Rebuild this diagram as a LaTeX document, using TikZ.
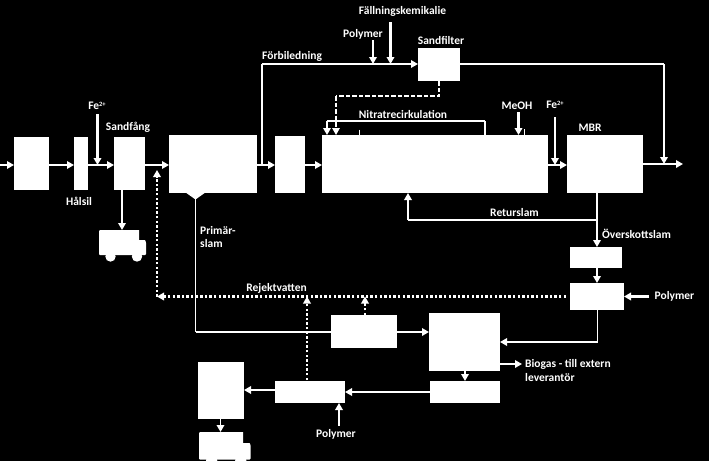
\documentclass[tikz,border=0pt]{standalone}
\usepackage{fontspec}
\setmainfont{Carlito}
\usetikzlibrary{arrows.meta,calc}
\tikzset{
  box/.style={fill=white,draw=none,inner sep=0pt,outer sep=0pt},
  flow/.style={draw=white,line width=1.7pt,-{Triangle[length=7pt,width=7.5pt]}},
  feed/.style={draw=white,line width=2.2pt,-{Triangle[length=7pt,width=7.5pt]}},
  plain/.style={draw=white,line width=1.7pt},
  dotflow/.style={draw=white,line width=2.5pt,dash pattern=on 2.4pt off 2.2pt,-{Triangle[length=7pt,width=7.5pt]}},
  dashflow/.style={draw=white,line width=1.4pt,dash pattern=on 4.5pt off 2pt},
  lab/.style={text=white,font=\bfseries\fontsize{11.5}{13}\selectfont,inner sep=0pt}
}
\newcommand{\bx}[5]{\node[box,minimum width={(#4-#2)*1pt},minimum height={(#5-#3)*1pt}] (#1) at ({(#2+#4)/2},{(#3+#5)/2}) {};}
\newcommand{\fetwo}{Fe\raisebox{3.5pt}{\fontsize{6.5}{7}\selectfont 2+}}
\newcommand{\truck}[3]{% x, y, scale
  \begin{scope}[shift={(#1,#2)},x=#3pt,y=-#3pt]
    \fill[white] (0,0) -- (40,0) -- (40,10) -- (46,10) [rounded corners=1pt] -- (47,12) -- (47,25) -- (0,25) -- cycle;
    \fill[white] (11.5,26.5) circle[radius=5.2];
    \fill[white] (38,26.5) circle[radius=5.2];
  \end{scope}}
\begin{document}
\begin{tikzpicture}[x=1pt,y=-1pt]
\path[use as bounding box,fill=black] (0,0) rectangle (709,461);
% boxes
\bx{inlet}{14}{137}{48.5}{190}
\bx{halsil}{74}{137}{88}{190}
\bx{sandf}{114}{136.5}{145}{190}
\bx{prim}{169}{135}{257}{193}
\bx{post}{275}{136}{305}{193}
\bx{bio}{322}{135}{548}{193}
\bx{mbr}{567}{135}{643}{193}
\bx{sfilt}{418}{48}{460}{81}
\bx{thick}{570}{247}{622}{268}
\bx{dewa}{570}{283}{624}{310}
\bx{mid}{331}{315}{397}{348}
\bx{dig}{429}{313}{500}{371}
\bx{store}{430}{381}{500}{403}
\bx{press}{275}{381}{345}{403}
\bx{silo}{198}{362}{244}{419}
\fill[white] (185,192) -- (206,192) -- (195.5,199.5) -- cycle;
\coordinate (tip) at (195.5,198);
\truck{99}{230}{1}
\truck{199}{432}{1.1}
% helper coordinates
\coordinate (fl) at (0,165);
\coordinate (start) at (0,165);
\coordinate (end) at (683,164);
\coordinate (bypass) at (262,165);
\coordinate (bytop) at (262,64);
\coordinate (outdrop) at (664,64);
\coordinate (outjoin) at (664,164);
\coordinate (polyA) at (373,40);
\coordinate (polyB) at (390.5,22);
\coordinate (feA) at (97.5,114);
\coordinate (feB) at (555,117);
\coordinate (meoh) at (518.5,112);
\coordinate (truckA) at (122,230);
\coordinate (truckB) at (220.5,432);
\coordinate (nitR) at (485,121);
\coordinate (nitL) at (327,121);
\coordinate (dashA) at (439,96);
\coordinate (dashB) at (336,96);
\coordinate (ret) at (408,220);
\coordinate (main) at (597,220);
\coordinate (polyC) at (649,296.5);
\coordinate (polyD) at (339,426);
\coordinate (corner) at (597.5,342);
\coordinate (biogas) at (522,364);
\coordinate (rejR) at (566,296.5);
\coordinate (rejL) at (157,296.5);
\coordinate (rejU) at (157,170);
\coordinate (primc) at (195.5,332);
\coordinate (tick1) at (359.5,129.5);
\coordinate (tick2) at (524.5,129);
% main line
\draw[flow] (start) -- (inlet.west|-fl);
\draw[flow] (inlet.east|-fl) -- (halsil.west|-fl);
\draw[flow] (halsil.east|-fl) -- (sandf.west|-fl);
\draw[flow] (sandf.east|-fl) -- (prim.west|-fl);
\draw[flow] (prim.east|-fl) -- (post.west|-fl);
\draw[flow] (post.east|-fl) -- (bio.west|-fl);
\draw[flow] (bio.east|-fl) -- (mbr.west|-fl);
\draw[flow] (mbr.east|-end) -- (end);
% bypass and sand filter
\draw[plain] (bypass) -- (bytop);
\draw[flow] (bytop) -- (sfilt.west|-bytop);
\draw[plain] (sfilt.east|-bytop) -- (outdrop);
\draw[flow] (outdrop) -- (outjoin);
\draw[feed] (polyA) -- (polyA|-bytop);
\draw[feed] (polyB) -- (polyB|-bytop);
% dosing
\draw[feed] (feA) -- (feA|-fl);
\draw[feed] (feB) -- (feB|-fl);
\draw[feed] (meoh) -- (meoh|-bio.north);
\draw[plain] (tick1) -- (tick1|-bio.north);
\draw[plain] (tick2) -- (tick2|-bio.north);
% recirculation
\draw[plain] (nitR|-bio.north) -- (nitR);
\draw[plain] (nitR) -- (nitL);
\draw[flow] (nitL) -- (nitL|-bio.north);
\draw[dashflow] (sfilt.south-|dashA) -- (dashA) -- (dashB);
\draw[dashflow,-{Triangle[length=7pt,width=7.5pt]}] (dashB) -- (dashB|-bio.north);
\draw[plain] (main) -- (ret);
\draw[flow] (ret) -- (ret|-bio.south);
% sludge line
\draw[flow] (sandf.south-|truckA) -- (truckA);
\draw[flow,line width=2pt] (mbr.south-|main) -- (main|-thick.north);
\draw[flow] (thick.south-|main) -- (main|-dewa.north);
\draw[feed] (polyC) -- (dewa.east|-polyC);
\draw[plain] (dewa.south-|corner) -- (corner);
\draw[flow] (corner) -- (dig.east|-corner);
\draw[feed] (dig.east|-biogas) -- (biogas);
\draw[flow] (dig.south-|store) -- (store.north);
\draw[plain] (tip) -- (primc);
\draw[plain] (primc) -- (mid.west|-primc);
\draw[flow] (mid.east|-primc) -- (dig.west|-primc);
\draw[flow] (store.west|-,392) -- (press.east|-,392);
\draw[flow] (press.west|-,390) -- (silo.east|-,390);
\draw[flow] (silo.south-|truckB) -- (truckB);
\draw[feed] (polyD) -- (polyD|-press.south);
% reject water
\draw[dotflow] (rejR) -- (rejL);
\draw[dotflow] (rejL) -- (rejU);
\draw[dotflow] (mid.north-|365,0) -- (365,296.5);
\draw[dotflow] (307,380) -- (307,296.5);
% labels
\node[lab] (t1) at (97,106) {\fetwo};
\node[lab] (t2) at (128,127.5) {Sandfång};
\node[lab] (t3) at (79,201) {Hålsil};
\node[lab,anchor=west] (t4) at (200,230.5) {Primär-};
\node[lab,anchor=west] (t5) at (200,244) {slam};
\node[lab,anchor=west] (t6) at (262,56) {Förbiledning};
\node[lab] (t7) at (363,34.5) {Polymer};
\node[lab] (t8) at (402.5,11) {Fällningskemikalie};
\node[lab] (t9) at (441,40) {Sandfilter};
\node[lab] (t10) at (403,114) {Nitratrecirkulation};
\node[lab] (t11) at (517,106) {MeOH};
\node[lab] (t12) at (555,105) {\fetwo};
\node[lab] (t13) at (590,127.5) {MBR};
\node[lab] (t14) at (514.5,212.5) {Returslam};
\node[lab,anchor=west] (t15) at (602,233.5) {Överskottslam};
\node[lab] (t16) at (276.5,288.5) {Rejektvatten};
\node[lab,anchor=west] (t17) at (654.5,296.5) {Polymer};
\node[lab,anchor=west] (t18) at (525,364) {Biogas - till extern};
\node[lab,anchor=west] (t19) at (525,377) {leverantör};
\node[lab] (t20) at (336,434) {Polymer};
\end{tikzpicture}
\end{document}
